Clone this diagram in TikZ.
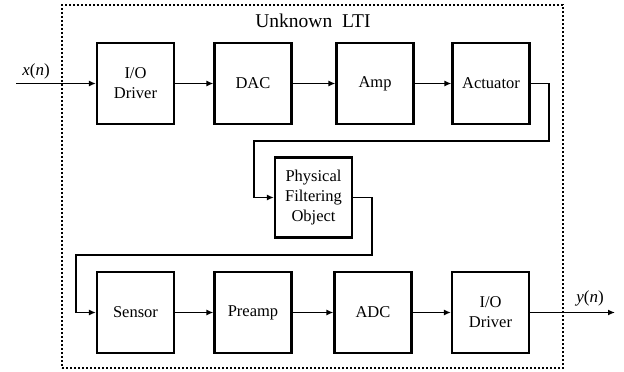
\documentclass[tikz,border=0pt]{standalone}
\usepackage{fontspec}
\setmainfont{Liberation Serif}
\usetikzlibrary{arrows.meta}
\begin{document}
\begin{tikzpicture}[x=1pt,y=-1pt,
  blk/.style={draw, line width=2.2pt, minimum width=77pt, minimum height=81pt, align=center, inner sep=0pt, font=\fontsize{16.5}{20}\selectfont},
  conn/.style={line width=1.4pt, -{Latex[length=7pt,width=6pt]}},
  lti/.style={draw, line width=2pt, dotted},
  sig/.style={font=\fontsize{17}{20}\selectfont}]
\useasboundingbox (0,0) rectangle (624,372);
\node[lti, minimum width=501pt, minimum height=363pt, inner sep=0pt] (box) at (312.5,186.5) {};
\node[font=\fontsize{19.5}{22}\selectfont] (title) at (313,21) {Unknown~ LTI};
\node[blk] (io1) at (135.5,83.5) {I/O\\Driver};
\node[blk] (dac) at (253,83.5) {DAC};
\node[blk] (amp) at (375,83.5) {Amp};
\node[blk] (act) at (491,83.5) {Actuator};
\node[blk, minimum height=80pt] (phys) at (313.5,197.5) {Physical\\Filtering\\Object};
\node[blk] (sen) at (135.5,312.5) {Sensor};
\node[blk] (pre) at (253,312.5) {Preamp};
\node[blk] (adc) at (373,312.5) {ADC};
\node[blk] (io2) at (490.5,312.5) {I/O\\Driver};
\coordinate (in) at (16,83.5);
\coordinate (out) at (615,312.5);
\node[sig] (xl) at (36,71) {\textit{x}(\textit{n})};
\node[sig] (yl) at (590,298) {\textit{y}(\textit{n})};
\draw[conn] (in) -- (io1);
\draw[conn] (io1) -- (dac);
\draw[conn] (dac) -- (amp);
\draw[conn] (amp) -- (act);
\draw[conn] (act.east) -- (549,83.5) -- (549,141) -- (254,141) -- (254,197.5) -- (phys.west);
\draw[conn] (phys.east) -- (372,197.5) -- (372,255) -- (76,255) -- (76,312.5) -- (sen.west);
\draw[conn] (sen) -- (pre);
\draw[conn] (pre) -- (adc);
\draw[conn] (adc) -- (io2);
\draw[conn] (io2) -- (out);
\end{tikzpicture}
\end{document}
